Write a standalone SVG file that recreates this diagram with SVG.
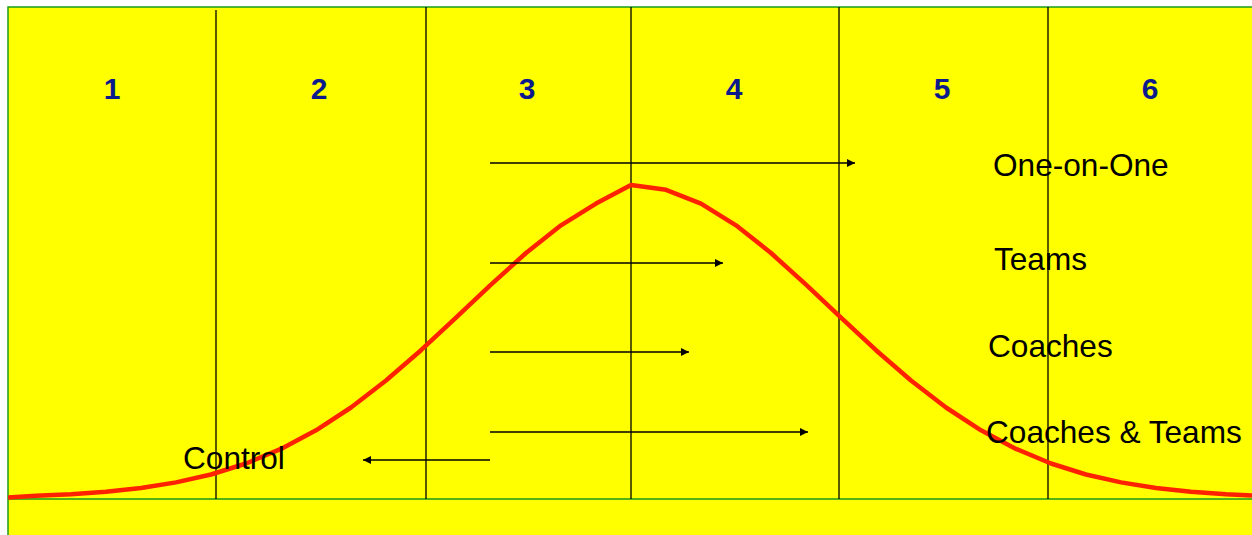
<svg xmlns="http://www.w3.org/2000/svg" width="1252" height="535" viewBox="0 0 1252 535">
<defs>
<style>
.vl{stroke:#000;stroke-width:1.3}
.ar{stroke:#000;stroke-width:1.3;fill:none;marker-end:url(#ah)}
.num{font-family:"Liberation Sans",Arial,sans-serif;font-weight:bold;font-size:30px;fill:#0a1a8c;text-anchor:middle}
.lbl{font-family:"Liberation Sans",Arial,sans-serif;font-size:31.6px;fill:#000}
</style>
<marker id="ah" viewBox="0 0 10 10" refX="10" refY="5" markerWidth="8" markerHeight="8" markerUnits="userSpaceOnUse" orient="auto">
<path d="M0,0 L10,5 L0,10 z" fill="#000"/>
</marker>
</defs>
<rect width="1252" height="535" fill="#fff"/>
<rect id="bg" x="8" y="7" width="1250" height="535" fill="#ffff00" stroke="#1a9a1a" stroke-width="1.5"/>
<line x1="8" y1="499" x2="1252" y2="499" stroke="#1a9a1a" stroke-width="1.5"/>
<g id="columns">
<line class="vl" x1="216" y1="10" x2="216" y2="499"/>
<line class="vl" x1="426" y1="7" x2="426" y2="499"/>
<line class="vl" x1="631" y1="7" x2="631" y2="499"/>
<line class="vl" x1="839" y1="7" x2="839" y2="499"/>
<line class="vl" x1="1048" y1="7" x2="1048" y2="499"/>
</g>
<g id="numbers">
<text class="num" x="112" y="99">1</text>
<text class="num" x="319" y="99">2</text>
<text class="num" x="527" y="99">3</text>
<text class="num" x="734" y="99">4</text>
<text class="num" x="942" y="99">5</text>
<text class="num" x="1150" y="99">6</text>
</g>
<g id="curve">
<polyline fill="none" stroke="#ff2200" stroke-width="4.5" stroke-linejoin="round" points="8,497.5 36,495.8 71,494.3 106,491.8 141,488 176,482.4 211,474.5 246,463.5 281,448.9 316,430.3 351,407.5 386,380.5 421,350.2 456,317.6 491,284.6 526,253 561,225.3 596,203.6 631,185 666,189.8 701,203.6 736,225.3 771,253 806,284.6 841,317.6 876,350.2 911,380.5 946,407.5 981,430.3 1016,448.9 1051,463.5 1086,474.5 1121,482.4 1156,488 1191,491.8 1226,494.3 1252,495.5"/>
</g>
<g id="connectors">
<line class="ar" x1="490" y1="163" x2="855" y2="163"/>
<line class="ar" x1="490" y1="263" x2="723" y2="263"/>
<line class="ar" x1="490" y1="352" x2="689" y2="352"/>
<line class="ar" x1="490" y1="432" x2="808" y2="432"/>
<line class="ar" x1="490" y1="460" x2="363" y2="460"/>
</g>
<g id="labels">
<text class="lbl" x="993" y="176">One-on-One</text>
<text class="lbl" x="994" y="270">Teams</text>
<text class="lbl" x="988" y="357">Coaches</text>
<text class="lbl" x="986" y="443">Coaches &amp; Teams</text>
<text class="lbl" x="183" y="469">Control</text>
</g>
</svg>
